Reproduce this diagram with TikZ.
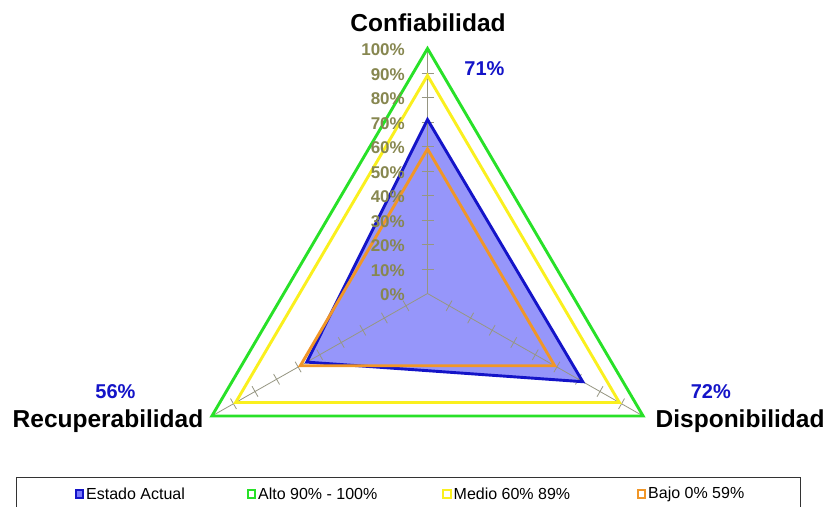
\documentclass[tikz,border=0pt]{standalone}
\usepackage{fontspec}
\setmainfont{Liberation Sans}
\usetikzlibrary{calc}
\definecolor{seriesblue}{RGB}{20,20,200}
\definecolor{seriesfill}{RGB}{150,150,250}
\definecolor{altogreen}{RGB}{40,225,40}
\definecolor{medioyellow}{RGB}{250,240,30}
\definecolor{bajoorange}{RGB}{240,150,40}
\definecolor{axisgray}{RGB}{150,150,130}
\definecolor{ticklabel}{RGB}{135,135,80}
\tikzset{
  axisline/.style={draw=axisgray, line width=0.8pt},
  ring/.style={line width=2.9pt, line join=miter},
  axistitle/.style={font=\fontsize{24.5}{28}\selectfont\bfseries, text=black, inner sep=0pt},
  valuelabel/.style={font=\fontsize{20}{24}\selectfont\bfseries, text=seriesblue, inner sep=0pt},
  scalelabel/.style={font=\fontsize{17}{20}\selectfont\bfseries, text=ticklabel, inner sep=0pt, anchor=east},
  legendkey/.style={rectangle, minimum size=7.5pt, inner sep=0pt, line width=2pt},
  legendtext/.style={font=\fontsize{16}{19}\selectfont, anchor=west, inner sep=0pt},
}
\begin{document}
\begin{tikzpicture}[x=1pt,y=-1pt]
\useasboundingbox (0,0) rectangle (824,506);
\fill[white] (0,0) rectangle (824,506);

% radar origin and the three 100% ends
\coordinate (O) at (427.5,293.5);
\coordinate (T) at (427.5,48.5);
\coordinate (R) at (643.1,416);
\coordinate (L) at (211.9,416);

% Estado Actual area
\fill[seriesfill] ($(O)!0.71!(T)$) -- ($(O)!0.72!(R)$) -- ($(O)!0.56!(L)$) -- cycle;

% axes with 10% ticks
\foreach \e in {T,R,L}{
  \draw[axisline] (O) -- (\e);
  \foreach \i in {1,...,10}{
    \pgfmathsetmacro\f{\i/10}
    \coordinate (p) at ($(O)!\f!(\e)$);
    \draw[axisline] ($(p)!6pt!90:(\e)$) -- ($(p)!6pt!-90:(\e)$);
  }
}

% level rings and series outlines
\draw[ring, altogreen] (T) -- (R) -- (L) -- cycle;
\draw[ring, medioyellow] ($(O)!0.89!(T)$) -- ($(O)!0.89!(R)$) -- ($(O)!0.89!(L)$) -- cycle;
\draw[ring, seriesblue] ($(O)!0.71!(T)$) -- ($(O)!0.72!(R)$) -- ($(O)!0.56!(L)$) -- cycle;
\draw[ring, bajoorange] ($(O)!0.59!(T)$) -- ($(O)!0.59!(R)$) -- ($(O)!0.59!(L)$) -- cycle;

% scale labels
\foreach \i in {0,...,10}{
  \pgfmathtruncatemacro\v{10*\i}
  \node[scalelabel] (s\i) at (405,{295-24.5*\i}) {\v\%};
}

% axis titles and values
\node[axistitle] (conf) at (428,23) {Confiabilidad};
\node[axistitle, anchor=west] (recu) at (12.5,421.5) {Recuperabilidad};
\node[axistitle, anchor=west] (disp) at (655.5,421.5) {Disponibilidad};
\node[valuelabel] (v71) at (484.5,68.5) {71\%};
\node[valuelabel] (v56) at (115.5,392) {56\%};
\node[valuelabel] (v72) at (710.8,392) {72\%};

% legend
\draw[black!80, line width=0.9pt] (16,477) rectangle (800,512);
\node[legendkey, draw=seriesblue, fill=seriesfill!80!blue] (k1) at (79.5,494) {};
\node[legendtext] (t1) at (86,494) {Estado Actual};
\node[legendkey, draw=altogreen, fill=white] (k2) at (251.5,494) {};
\node[legendtext] (t2) at (258,494) {Alto 90\% - 100\%};
\node[legendkey, draw=medioyellow, fill=white] (k3) at (447,494) {};
\node[legendtext] (t3) at (453.5,494) {Medio 60\% 89\%};
\node[legendkey, draw=bajoorange, fill=white] (k4) at (641.5,494) {};
\node[legendtext] (t4) at (648,494) {Bajo 0\% 59\%};
\end{tikzpicture}
\end{document}
